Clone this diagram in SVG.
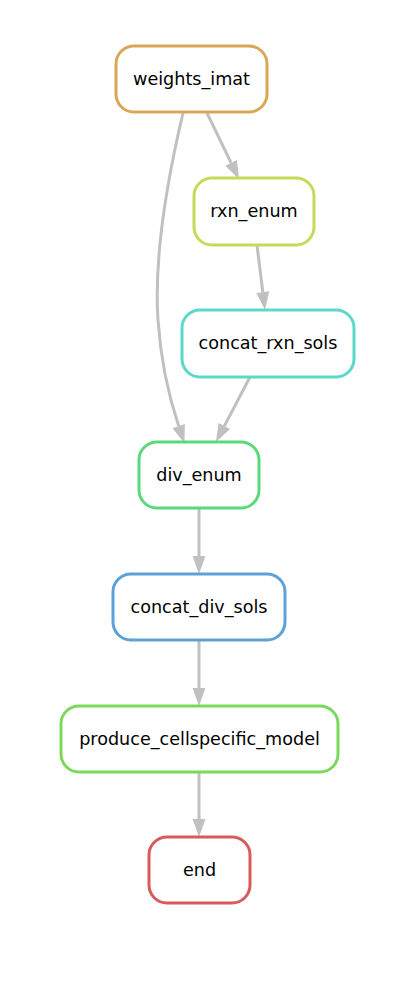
<svg xmlns="http://www.w3.org/2000/svg" width="416" height="990" viewBox="0 0 416 990">
<style>
.n rect{fill:#fff;stroke-width:3}
.n text{font-family:"DejaVu Sans",sans-serif;font-size:17.6px;fill:#000;text-anchor:middle}
.e path{fill:none;stroke:#c0c0c0;stroke-width:3;marker-end:url(#ah)}
</style>
<defs>
<marker id="ah" markerUnits="userSpaceOnUse" markerWidth="18" markerHeight="13" refX="0" refY="6.5" orient="auto" overflow="visible">
<path d="M0,0 L18,6.5 L0,13 z" fill="#c0c0c0"/>
</marker>
</defs>
<rect width="416" height="990" fill="#fff"/>
<g id="edges" class="e">
<path d="M207,113 L231.1,162.8"/>
<path d="M183,113 C166,185 154,260 158,320 C161,365 170,400 178.7,426.1"/>
<path d="M257,245 L262.8,292.1"/>
<path d="M250,377 L224.3,426.1"/>
<path d="M199,508 L199,556"/>
<path d="M199,640 L199,688"/>
<path d="M199,772 L199,819"/>
</g>
<g id="weights_imat" class="n"><rect x="116" y="46" width="151" height="66" rx="18" stroke="#d9a857"/><text x="191.5" y="85">weights_imat</text></g>
<g id="rxn_enum" class="n"><rect x="194" y="178" width="120" height="67" rx="18" stroke="#c8d95a"/><text x="254" y="217">rxn_enum</text></g>
<g id="concat_rxn_sols" class="n"><rect x="182" y="310" width="172" height="67" rx="18" stroke="#5ad9c8"/><text x="268" y="349">concat_rxn_sols</text></g>
<g id="div_enum" class="n"><rect x="139" y="442" width="120" height="66" rx="18" stroke="#5ad97a"/><text x="199" y="481">div_enum</text></g>
<g id="concat_div_sols" class="n"><rect x="113" y="574" width="172" height="66" rx="18" stroke="#5aa2d9"/><text x="199" y="613">concat_div_sols</text></g>
<g id="produce_cellspecific_model" class="n"><rect x="61" y="706" width="277" height="66" rx="18" stroke="#7ad95a"/><text x="199.5" y="745">produce_cellspecific_model</text></g>
<g id="end" class="n"><rect x="149" y="837" width="101" height="66" rx="18" stroke="#d95a5a"/><text x="199.5" y="876">end</text></g>
</svg>
